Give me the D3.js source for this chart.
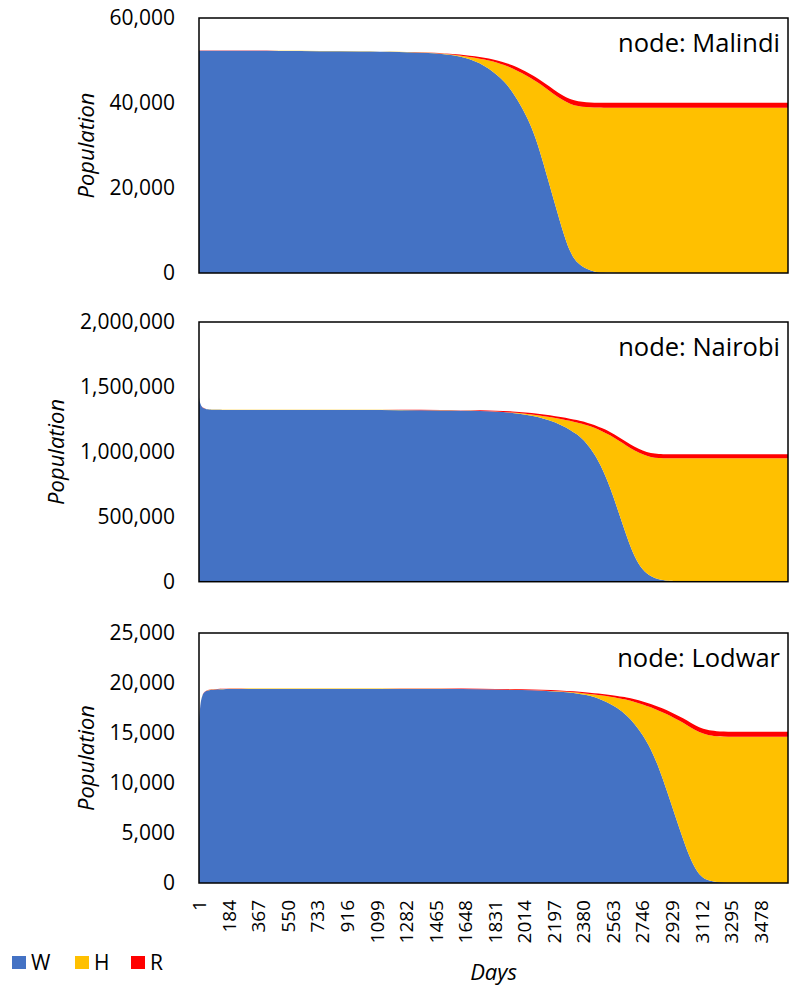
<!DOCTYPE html>
<html>
<head>
<meta charset="utf-8">
<script src="https://cdn.jsdelivr.net/npm/d3@7"></script>
<style>
  body { margin: 0; background: #fff; }
  text { font-family: "Open Sans", sans-serif; fill: #000; }
</style>
</head>
<body>
<svg id="chart" width="791" height="986"></svg>
<script>
// Simulated node populations (W, H, R) by simulation day
const seriesKeys = ["W", "H", "R"];
const seriesColors = ["#4472C4", "#FFC000", "#FF0000"];

const malindiDays = [1, 250, 500, 750, 1000, 1250, 1430, 1550, 1680, 1800, 1900, 1950, 2000, 2050, 2100, 2150, 2200, 2250, 2300, 2350, 2400, 2450, 2500, 2600, 2800, 3000, 3300, 3650];
const malindiW = [52300, 52300, 52250, 52200, 52150, 52050, 51800, 51480, 50500, 48250, 44850, 42200, 39100, 35350, 30400, 23700, 17100, 10400, 4600, 2100, 950, 280, 80, 0, 0, 0, 0, 0];
const malindiH = [20, 20, 20, 20, 20, 10, 20, 10, 380, 1790, 4000, 5860, 7980, 10640, 14460, 19750, 24950, 30350, 35170, 37110, 38060, 38650, 38820, 38900, 38900, 38900, 38900, 38900];
const malindiR = [30, 30, 30, 30, 30, 40, 80, 120, 300, 500, 650, 720, 800, 880, 950, 1000, 1050, 1080, 1100, 1120, 1140, 1150, 1150, 1150, 1150, 1150, 1150, 1150];
const malindiTicks = [0, 20000, 40000, 60000];

const nairobiDays = [1, 8, 20, 40, 80, 250, 500, 750, 1000, 1250, 1500, 1750, 1950, 2100, 2250, 2350, 2400, 2450, 2500, 2550, 2600, 2650, 2700, 2750, 2800, 2850, 2900, 3000, 3300, 3650];
const nairobiW = [1420000, 1370000, 1340000, 1330000, 1324000, 1322000, 1322000, 1322000, 1322000, 1321000, 1319000, 1316000, 1302000, 1274000, 1210000, 1132000, 1070000, 986000, 871000, 721000, 537000, 351000, 183000, 88000, 40000, 16000, 7000, 0, 0, 0];
const nairobiH = [1000, 1000, 1000, 1000, 1000, 1500, 1500, 1500, 1500, 1500, 1000, 1000, 2000, 9000, 42000, 92000, 136000, 201000, 286000, 406000, 550000, 697000, 825000, 892000, 918000, 937000, 943000, 950000, 950000, 950000];
const nairobiR = [500, 500, 500, 500, 500, 800, 800, 800, 1000, 1500, 2000, 5000, 8000, 12000, 16000, 19000, 21000, 22000, 24000, 26000, 27000, 28000, 29000, 30000, 31000, 31000, 31000, 31000, 31000, 31000];
const nairobiTicks = [0, 500000, 1000000, 1500000, 2000000];

const lodwarDays = [1, 8, 20, 40, 80, 250, 500, 750, 1000, 1250, 1500, 1750, 2000, 2250, 2400, 2500, 2600, 2650, 2700, 2750, 2800, 2850, 2900, 2950, 3000, 3050, 3100, 3150, 3200, 3300, 3450, 3650];
const lodwarW = [16000, 17800, 18800, 19200, 19380, 19400, 19400, 19400, 19400, 19400, 19400, 19380, 19310, 19150, 18850, 18350, 17470, 16770, 15920, 14840, 13440, 11560, 9200, 6780, 4370, 2160, 750, 270, 80, 0, 0, 0];
const lodwarH = [10, 20, 20, 20, 30, 40, 40, 40, 40, 30, 20, 10, 10, 30, 100, 400, 1010, 1570, 2180, 3030, 4130, 5670, 7680, 9670, 11670, 13350, 14320, 14530, 14590, 14630, 14630, 14630];
const lodwarR = [10, 10, 10, 10, 10, 10, 10, 10, 10, 20, 30, 40, 60, 80, 120, 150, 200, 230, 270, 300, 340, 370, 400, 430, 450, 470, 480, 490, 500, 500, 500, 500];
const lodwarTicks = [0, 5000, 10000, 15000, 20000, 25000];

const dayTickLabels = [1, 184, 367, 550, 733, 916, 1099, 1282, 1465, 1648, 1831, 2014, 2197, 2380, 2563, 2746, 2929, 3112, 3295, 3478];
const lastDay = 3650;

const panels = [
  { name: "Malindi", days: malindiDays, W: malindiW, H: malindiH, R: malindiR, ticks: malindiTicks, top: 18, bottom: 273 },
  { name: "Nairobi", days: nairobiDays, W: nairobiW, H: nairobiH, R: nairobiR, ticks: nairobiTicks, top: 322, bottom: 581.7 },
  { name: "Lodwar", days: lodwarDays, W: lodwarW, H: lodwarH, R: lodwarR, ticks: lodwarTicks, top: 633, bottom: 883 }
];

const svg = d3.select("#chart");
const plotLeft = 199, plotRight = 788;
const x = d3.scaleLinear().domain([1, lastDay]).range([plotLeft, plotRight]);
const color = d3.scaleOrdinal().domain(seriesKeys).range(seriesColors);
const fmt = d3.format(",");

panels.forEach((p, idx) => {
  const y = d3.scaleLinear().domain([0, d3.max(p.ticks)]).range([p.bottom, p.top]);
  const rows = p.days.map((d, i) => ({ day: d, W: p.W[i], H: p.H[i], R: p.R[i] }));
  const stacked = d3.stack().keys(seriesKeys)(rows);

  const clipId = "clip-" + idx;
  svg.append("clipPath").attr("id", clipId)
    .append("rect")
    .attr("x", plotLeft).attr("y", p.top)
    .attr("width", plotRight - plotLeft).attr("height", p.bottom - p.top);

  const area = d3.area()
    .x(d => x(d.data.day))
    .y0(d => y(d[0]))
    .y1(d => y(d[1]))
    .curve(d3.curveBasis);

  svg.append("g").attr("clip-path", `url(#${clipId})`)
    .selectAll("path")
    .data(stacked)
    .join("path")
    .attr("fill", d => color(d.key))
    .attr("d", area);

  // plot frame
  svg.append("rect")
    .attr("x", plotLeft).attr("y", p.top)
    .attr("width", plotRight - plotLeft).attr("height", p.bottom - p.top)
    .attr("fill", "none").attr("stroke", "#000").attr("stroke-width", 1.5);

  // value axis
  const yAxis = svg.append("g")
    .attr("transform", `translate(${plotLeft},0)`)
    .call(d3.axisLeft(y).tickValues(p.ticks).tickFormat(fmt).tickSize(0).tickPadding(24));
  yAxis.select(".domain").remove();
  yAxis.selectAll("text")
    .style("font-family", '"Open Sans", sans-serif')
    .style("font-size", "21px")
    .attr("fill", "#000");

  let minLeft = Infinity;
  yAxis.selectAll("text").each(function () {
    const b = this.getBBox();
    const m = this.getCTM();
    minLeft = Math.min(minLeft, b.x + m.e);
  });

  svg.append("text")
    .attr("transform", `translate(${minLeft - 23.5},${(p.top + p.bottom) / 2}) rotate(-90)`)
    .attr("text-anchor", "middle")
    .attr("dy", "0.35em")
    .style("font-size", "22px")
    .style("font-style", "italic")
    .text("Population");

  svg.append("text")
    .attr("x", 780).attr("y", p.top + 34)
    .attr("text-anchor", "end")
    .style("font-size", "25.5px")
    .text("node: " + p.name);

  if (idx === panels.length - 1) {
    const xAxis = svg.append("g")
      .attr("transform", `translate(0,${p.bottom})`)
      .call(d3.axisBottom(x).tickValues(dayTickLabels).tickFormat(d => String(d)).tickSize(0).tickPadding(0));
    xAxis.select(".domain").remove();
    xAxis.selectAll("text")
      .attr("transform", "rotate(-90)")
      .attr("text-anchor", "end")
      .attr("x", -17)
      .attr("y", 0)
      .attr("dy", "0.36em")
      .style("font-family", '"Open Sans", sans-serif')
      .style("font-size", "19px")
      .attr("fill", "#000");
  }
});

svg.append("text")
  .attr("x", (plotLeft + plotRight) / 2).attr("y", 980)
  .attr("text-anchor", "middle")
  .style("font-size", "22px")
  .style("font-style", "italic")
  .text("Days");

// legend
const legendX = [12, 75, 131];
const legend = svg.append("g");
seriesKeys.forEach((k, i) => {
  legend.append("rect")
    .attr("x", legendX[i]).attr("y", 956)
    .attr("width", 14).attr("height", 13)
    .attr("fill", color(k));
  legend.append("text")
    .attr("x", legendX[i] + 19).attr("y", 969.5)
    .style("font-size", "21px")
    .text(k);
});
</script>
</body>
</html>
